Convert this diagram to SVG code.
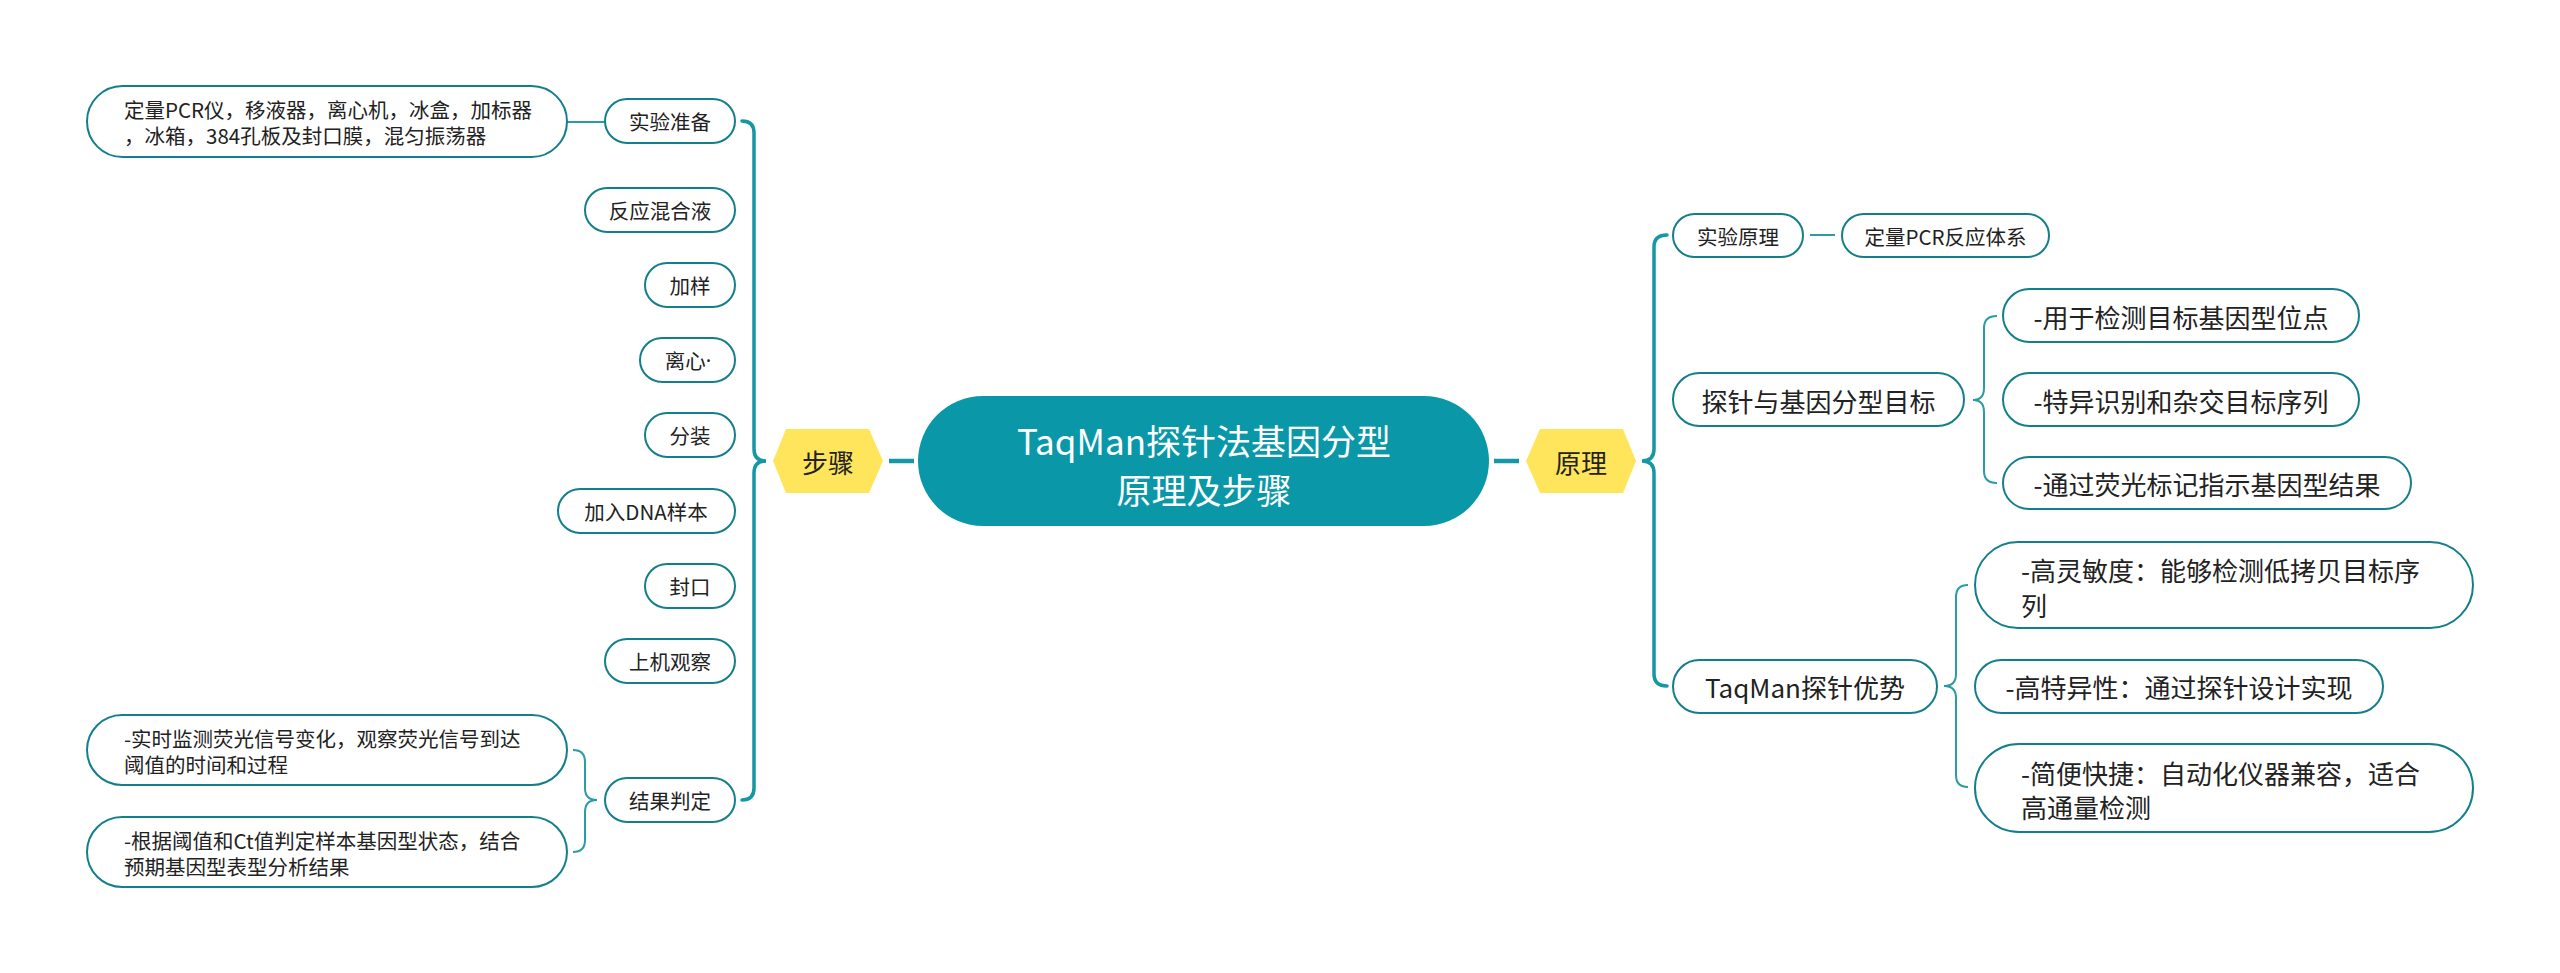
<svg xmlns="http://www.w3.org/2000/svg" width="2560" height="973" viewBox="0 0 2560 973">
<style>
.box{fill:#fff;stroke:#137f8a;stroke-width:2}
.t{font-family:"Noto Sans CJK SC","Noto Sans",sans-serif;fill:#222;dominant-baseline:central}
.s{font-size:20.5px}
.l{font-size:26px}
.c{text-anchor:middle}
.hex{fill:#ffe55c}
.main{fill:none;stroke:#1597a6;stroke-width:3.5;stroke-linecap:round}
.sub{fill:none;stroke:#2a9ca3;stroke-width:2}
.thick{stroke:#1597a6;stroke-width:4.5}
.thin{stroke:#2a9ca3;stroke-width:2}
</style>
<rect width="2560" height="973" fill="#fff"/>
<g id="connectors">
<path class="main" d="M742,121 Q754,121 754,133 V449 Q754,461 766,461 Q754,461 754,473 V788 Q754,800 742,800"/>
<path class="main" d="M1667,235 Q1654,235 1654,247 V449 Q1654,461 1642,461 Q1654,461 1654,473 V674 Q1654,686 1667,686"/>
<path class="sub" d="M573,750 Q585,750 585,762 V788 Q585,800 597,800 Q585,800 585,812 V840 Q585,852 573,852"/>
<path class="sub" d="M1997,316 Q1984,316 1984,328 V388 Q1984,400 1973,400 Q1984,400 1984,412 V471 Q1984,483 1997,483"/>
<path class="sub" d="M1968,585 Q1956,585 1956,597 V674 Q1956,686 1944,686 Q1956,686 1956,698 V775 Q1956,787 1968,787"/>
<line class="thin" x1="567" y1="122" x2="605" y2="122"/>
<line class="thick" x1="889" y1="461" x2="914" y2="461"/>
<line class="thick" x1="1494" y1="461" x2="1519" y2="461"/>
<line class="thin" x1="1810" y1="235" x2="1835" y2="235"/>
</g>
<g id="center">
<rect x="918" y="396" width="571" height="130" rx="65" fill="#0a98a8"/>
<text class="t c" x="1204" y="439" font-size="35" style="fill:#fff">TaqMan探针法基因分型</text>
<text class="t c" x="1204" y="488" font-size="35" style="fill:#fff">原理及步骤</text>
</g>
<g id="steps">
<polygon class="hex" points="773,461 786,429 869,429 883,461 869,493 786,493"/>
<text class="t l c" x="828" y="461">步骤</text>
</g>
<g id="principle">
<polygon class="hex" points="1526,461 1540,429 1623,429 1636,461 1623,493 1540,493"/>
<text class="t l c" x="1581" y="461">原理</text>
</g>
<g id="prep">
<rect class="box" x="605" y="99" width="130" height="44" rx="22"/>
<text class="t s c" x="670" y="121">实验准备</text>
</g>
<g id="prep-detail">
<rect class="box" x="87" y="86" width="480" height="71" rx="35.5"/>
<text class="t s" x="124" y="109">定量PCR仪，移液器，离心机，冰盒，加标器</text>
<text class="t s" x="124" y="135">，冰箱，384孔板及封口膜，混匀振荡器</text>
</g>
<g id="mix">
<rect class="box" x="585" y="188" width="150" height="44" rx="22"/>
<text class="t s c" x="660" y="210">反应混合液</text>
</g>
<g id="load">
<rect class="box" x="645" y="263" width="90" height="44" rx="22"/>
<text class="t s c" x="690" y="285">加样</text>
</g>
<g id="centrifuge">
<rect class="box" x="640" y="338" width="95" height="44" rx="22"/>
<text class="t s c" x="688" y="360">离心<tspan style="font-family:'Noto Sans',sans-serif">·</tspan></text>
</g>
<g id="dispense">
<rect class="box" x="645" y="413" width="90" height="44" rx="22"/>
<text class="t s c" x="690" y="435">分装</text>
</g>
<g id="add-dna">
<rect class="box" x="558" y="489" width="177" height="44" rx="22"/>
<text class="t s c" x="646" y="511">加入DNA样本</text>
</g>
<g id="seal">
<rect class="box" x="645" y="564" width="90" height="44" rx="22"/>
<text class="t s c" x="690" y="586">封口</text>
</g>
<g id="observe">
<rect class="box" x="605" y="639" width="130" height="44" rx="22"/>
<text class="t s c" x="670" y="661">上机观察</text>
</g>
<g id="result">
<rect class="box" x="605" y="778" width="130" height="44" rx="22"/>
<text class="t s c" x="670" y="800">结果判定</text>
</g>
<g id="result-1">
<rect class="box" x="87" y="715" width="480" height="70" rx="35"/>
<text class="t s" x="124" y="738">-实时监测荧光信号变化，观察荧光信号到达</text>
<text class="t s" x="124" y="764">阈值的时间和过程</text>
</g>
<g id="result-2">
<rect class="box" x="87" y="817" width="480" height="70" rx="35"/>
<text class="t s" x="124" y="840">-根据阈值和Ct值判定样本基因型状态，结合</text>
<text class="t s" x="124" y="866">预期基因型表型分析结果</text>
</g>
<g id="exp-principle">
<rect class="box" x="1673" y="214" width="130" height="43" rx="21.5"/>
<text class="t s c" x="1738" y="235.5">实验原理</text>
</g>
<g id="qpcr">
<rect class="box" x="1842" y="214" width="207" height="43" rx="21.5"/>
<text class="t s c" x="1945.5" y="235.5">定量PCR反应体系</text>
</g>
<g id="probe-target">
<rect class="box" x="1673" y="373" width="291" height="53" rx="26.5"/>
<text class="t l c" x="1818.5" y="400">探针与基因分型目标</text>
</g>
<g id="pt-1">
<rect class="box" x="2003" y="289" width="356" height="53" rx="26.5"/>
<text class="t l c" x="2181" y="316">-用于检测目标基因型位点</text>
</g>
<g id="pt-2">
<rect class="box" x="2003" y="373" width="356" height="53" rx="26.5"/>
<text class="t l c" x="2181" y="400">-特异识别和杂交目标序列</text>
</g>
<g id="pt-3">
<rect class="box" x="2003" y="457" width="408" height="52" rx="26"/>
<text class="t l c" x="2207" y="483">-通过荧光标记指示基因型结果</text>
</g>
<g id="advantage">
<rect class="box" x="1673" y="660" width="264" height="53" rx="26.5"/>
<text class="t l c" x="1805" y="686">TaqMan探针优势</text>
</g>
<g id="adv-1">
<rect class="box" x="1975" y="542" width="498" height="86" rx="43"/>
<text class="t l" x="2021" y="569">-高灵敏度：能够检测低拷贝目标序</text>
<text class="t l" x="2021" y="604">列</text>
</g>
<g id="adv-2">
<rect class="box" x="1975" y="660" width="408" height="53" rx="26.5"/>
<text class="t l c" x="2179" y="686">-高特异性：通过探针设计实现</text>
</g>
<g id="adv-3">
<rect class="box" x="1975" y="744" width="498" height="88" rx="44"/>
<text class="t l" x="2021" y="772">-简便快捷：自动化仪器兼容，适合</text>
<text class="t l" x="2021" y="806">高通量检测</text>
</g>
</svg>
